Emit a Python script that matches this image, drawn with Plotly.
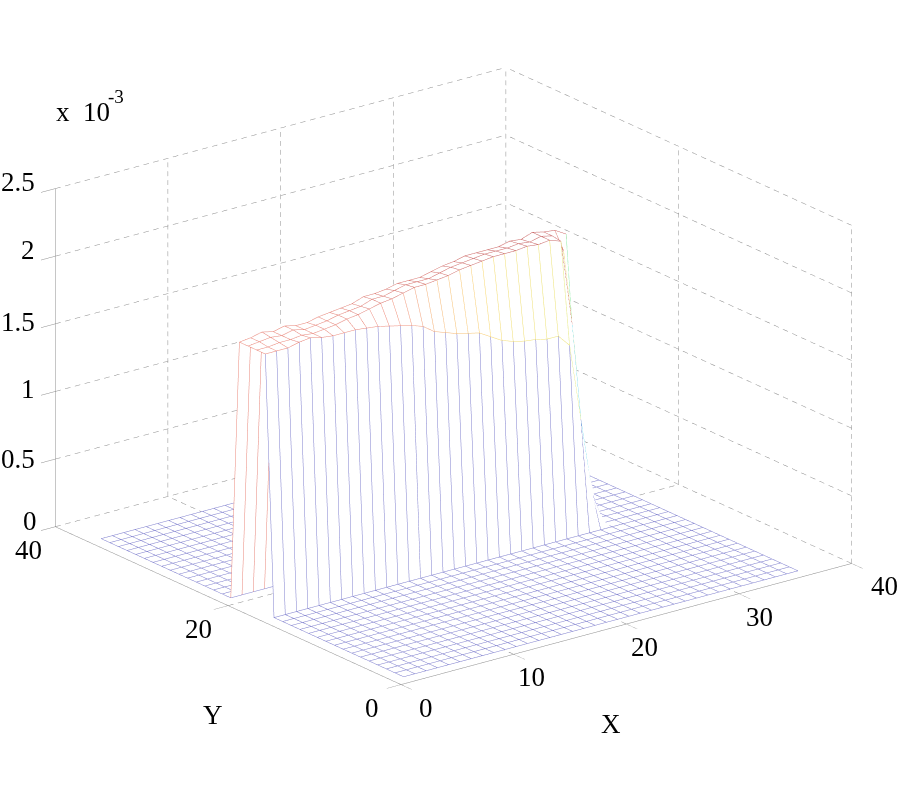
import plotly.graph_objects as go

# mesh grid, floor is flat apart from the ridge rows below
grid_x = list(range(1, 37))
grid_y = list(range(1, 37))

# ridge heights (x 10^-3) for x = 1..30
ridge_y17 = [1.92, 1.92, 1.92, 1.94, 1.95, 1.93, 1.92, 1.92, 1.92, 1.91, 1.90, 1.88, 1.86, 1.84, 1.81,
             1.75, 1.72, 1.69, 1.67, 1.65, 1.60, 1.55, 1.52, 1.50, 1.49, 1.47, 1.47, 1.38, 0.81, 0.24]
ridge_y18 = [1.92, 1.92, 1.93, 1.93, 1.94, 1.93, 1.94, 1.95, 1.97, 1.98, 2.00, 2.02, 2.03, 2.05, 2.07,
             2.07, 2.08, 2.09, 2.11, 2.12, 2.13, 2.14, 2.14, 2.14, 2.15, 2.14, 2.15, 2.12, 1.48, 0.61]
ridge_y19 = [1.92, 1.93, 1.94, 1.93, 1.95, 1.93, 1.94, 1.95, 1.97, 1.98, 1.99, 2.02, 2.02, 2.04, 2.06,
             2.06, 2.06, 2.08, 2.10, 2.11, 2.12, 2.13, 2.13, 2.13, 2.14, 2.13, 2.15, 2.13, 2.00, 1.10]
ridge_y20 = [1.92, 1.93, 1.95, 1.93, 1.95, 1.93, 1.93, 1.95, 1.96, 1.97, 1.98, 2.01, 2.01, 2.02, 2.04,
             2.04, 2.04, 2.06, 2.08, 2.09, 2.11, 2.11, 2.11, 2.11, 2.13, 2.12, 2.15, 2.13, 2.12, 2.07]
ridge = {17: ridge_y17, 18: ridge_y18, 19: ridge_y19, 20: ridge_y20}

x_ticks = [0, 10, 20, 30, 40]
y_ticks = [0, 20, 40]
z_ticks = [0, 0.5, 1, 1.5, 2, 2.5]
z_labels = ["0", "0.5", "1", "1.5", "2", "2.5"]

# pale jet, the thin matlab lines come out washed on the scan
pale_jet = [[0, "rgb(125,125,205)"], [0.125, "rgb(120,120,225)"], [0.375, "rgb(100,215,235)"],
            [0.5, "rgb(130,235,170)"], [0.625, "rgb(225,235,120)"], [0.75, "rgb(250,215,110)"],
            [0.875, "rgb(240,140,125)"], [1, "rgb(200,100,100)"]]
GRID = "#8c8c8c"
FONT = "Liberation Serif"


def height(x, y):
    if y in ridge and x <= len(ridge[y]):
        return ridge[y][x - 1]
    return 0.0


Z = [[height(x, y) for x in grid_x] for y in grid_y]

# edges take the colour of their lower index vertex, like matlab mesh
seg_x, seg_y, seg_z, seg_c = [], [], [], []
lift = 0.006


def add_edge(x0, y0, x1, y1):
    z0 = height(x0, y0)
    seg_x.extend([x0, x1, None])
    seg_y.extend([y0, y1, None])
    seg_z.extend([z0 + lift, height(x1, y1) + lift, None])
    seg_c.extend([z0, z0, z0])


for y in grid_y:
    for x in grid_x:
        if x < grid_x[-1]:
            add_edge(x, y, x + 1, y)
        if y < grid_y[-1]:
            add_edge(x, y, x, y + 1)

# dashed walls and floor
grid_xs, grid_ys, grid_zs = [], [], []


def dashed(p0, p1, count):
    for i in range(count):
        a = i / count
        b = (i + 0.55) / count
        grid_xs.extend([p0[0] + (p1[0] - p0[0]) * a, p0[0] + (p1[0] - p0[0]) * b, None])
        grid_ys.extend([p0[1] + (p1[1] - p0[1]) * a, p0[1] + (p1[1] - p0[1]) * b, None])
        grid_zs.extend([p0[2] + (p1[2] - p0[2]) * a, p0[2] + (p1[2] - p0[2]) * b, None])


for t in x_ticks:
    dashed((t, 0, 0), (t, 40, 0), 38)
    dashed((t, 40, 0), (t, 40, 2.5), 38)
for t in y_ticks:
    dashed((0, t, 0), (40, t, 0), 46)
    dashed((40, t, 0), (40, t, 2.5), 38)
for t in z_ticks:
    dashed((0, 40, t), (40, 40, t), 46)
    dashed((40, 0, t), (40, 40, t), 38)

fig = go.Figure()
fig.add_trace(go.Scatter3d(x=grid_xs, y=grid_ys, z=grid_zs, mode="lines",
                           line=dict(color=GRID, width=1), hoverinfo="skip", showlegend=False))
fig.add_trace(go.Surface(x=[v + 0.03 for v in grid_x], y=[v + 0.03 for v in grid_y],
                         z=[[v + 0.003 for v in row] for row in Z],
                         colorscale=[[0, "white"], [1, "white"]], showscale=False, hoverinfo="skip",
                         lighting=dict(ambient=1, diffuse=0, specular=0, fresnel=0, roughness=1)))
fig.add_trace(go.Scatter3d(x=seg_x, y=seg_y, z=seg_z, mode="lines",
                           line=dict(color=seg_c, colorscale=pale_jet, cmin=0, cmax=2.15, width=1),
                           hoverinfo="skip", showlegend=False))

axis_style = dict(showbackground=False, showgrid=False, zeroline=False, showline=True, linecolor=GRID,
                  linewidth=1, ticks="outside", tickcolor=GRID, ticklen=18, tickwidth=1,
                  showticklabels=False, title=dict(text=""), showspikes=False)


def label(x, y, z, text, dx, dy):
    return dict(x=x, y=y, z=z, text=text, showarrow=False, xshift=dx, yshift=dy,
                font=dict(family=FONT, size=27, color="black"))


labels = []
for t, dx in zip(x_ticks, [25, 18, 18, 20, 33]):
    labels.append(label(t, 0, 0, str(t), dx, -23))
for t, dx in zip(y_ticks, [-29, -30, -27]):
    labels.append(label(0, t, 0, str(t), dx, -23))
for t, text, dx, dy in zip(z_ticks, z_labels, [-25, -37, -27, -37, -27, -37], [6, 0, 2, 2, 6, 7]):
    labels.append(label(0, 40, t, text, dx, dy))
labels.append(label(20, 0, 0, "X", -15, -100))
labels.append(label(0, 20, 0, "Y", -15, -109))

fig.update_layout(
    width=900,
    height=800,
    margin=dict(l=0, r=0, t=0, b=0),
    paper_bgcolor="white",
    showlegend=False,
    scene=dict(
        domain=dict(x=[0, 1], y=[0, 1]),
        aspectmode="manual",
        aspectratio=dict(x=1.42, y=1.42, z=0.9025),
        camera=dict(eye=dict(x=-0.762, y=-0.979, z=0.40), center=dict(x=-0.0069, y=0.0053, z=-0.064),
                    up=dict(x=0, y=0, z=1), projection=dict(type="orthographic")),
        xaxis=dict(axis_style, range=[0, 40], tickvals=x_ticks),
        yaxis=dict(axis_style, range=[0, 40], tickvals=y_ticks),
        zaxis=dict(axis_style, range=[0, 2.5], tickvals=z_ticks),
        annotations=labels,
    ),
    annotations=[dict(text="x  10", x=54 / 900, y=(800 - 112) / 800, xref="paper", yref="paper",
                      showarrow=False, xanchor="left", yanchor="middle",
                      font=dict(family=FONT, size=27, color="black")),
                 dict(text="-3", x=106 / 900, y=(800 - 97) / 800, xref="paper", yref="paper",
                      showarrow=False, xanchor="left", yanchor="middle",
                      font=dict(family=FONT, size=19, color="black"))],
)

# the default body margin would clip the labels at the page edges
fig.write_html("out.html", config=dict(displayModeBar=False), post_script="document.body.style.margin = '0';")
